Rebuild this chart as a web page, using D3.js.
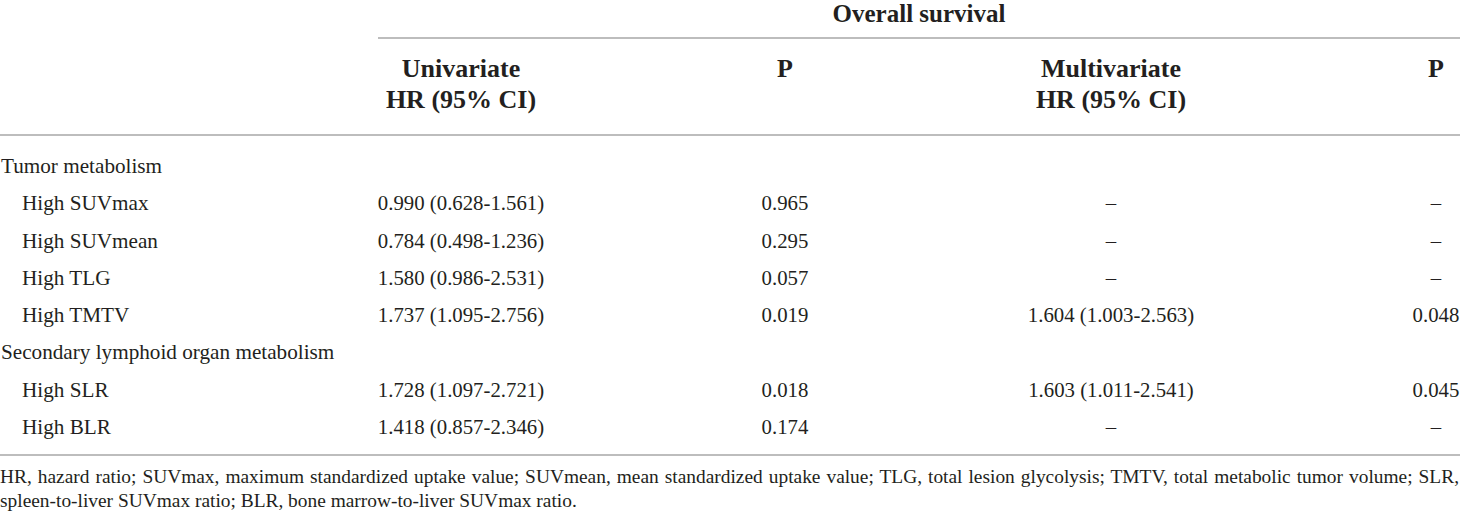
<!DOCTYPE html>
<html lang="en">
<head>
    <meta charset="UTF-8">
    <title>Overall survival - Cox regression table</title>
    <script src="https://d3js.org/d3.v7.min.js"></script>
    <style>
        body {
            margin: 0;
            background: #fff;
        }
        svg text {
            font-family: "Liberation Serif", "DejaVu Serif", serif;
            fill: #231f20;
        }
        .rule {
            stroke: #bdbdbd;
            stroke-width: 2;
        }
        .head {
            font-weight: bold;
        }
    </style>
</head>
<body>
    <svg id="table" width="1460" height="522"></svg>

    <script>
        // table contents
        const spanHeader = "Overall survival";
        const columnKeys = ["uni", "p1", "multi", "p2"];
        const columnHeaders = [["Univariate", "HR (95% CI)"], ["P"], ["Multivariate", "HR (95% CI)"], ["P"]];

        const groupNames = ["Tumor metabolism", "Secondary lymphoid organ metabolism"];
        const variables = ["High SUVmax", "High SUVmean", "High TLG", "High TMTV", "High SLR", "High BLR"];
        const variableGroup = [0, 0, 0, 0, 1, 1];

        const uniHR = ["0.990 (0.628-1.561)", "0.784 (0.498-1.236)", "1.580 (0.986-2.531)", "1.737 (1.095-2.756)", "1.728 (1.097-2.721)", "1.418 (0.857-2.346)"];
        const uniP = ["0.965", "0.295", "0.057", "0.019", "0.018", "0.174"];
        const multiHR = ["–", "–", "–", "1.604 (1.003-2.563)", "1.603 (1.011-2.541)", "–"];
        const multiP = ["–", "–", "–", "0.048", "0.045", "–"];

        const footnoteLines = [
            "HR, hazard ratio; SUVmax, maximum standardized uptake value; SUVmean, mean standardized uptake value; TLG, total lesion glycolysis; TMTV, total metabolic tumor volume; SLR,",
            "spleen-to-liver SUVmax ratio; BLR, bone marrow-to-liver SUVmax ratio."
        ];

        const svg = d3.select("#table");
        const width = +svg.attr("width");
        const headSize = 26;
        const labelSize = 21.2;
        const cellSize = 20.8;
        const noteSize = 19.4;

        // build the body rows: group heading followed by its variables
        const rows = [];
        groupNames.forEach((g, gi) => {
            rows.push({ key: "g" + gi, label: g, group: true });
            variables.forEach((v, i) => {
                if (variableGroup[i] === gi) {
                    rows.push({ key: "v" + i, label: v, group: false,
                        cells: [uniHR[i], uniP[i], multiHR[i], multiP[i]] });
                }
            });
        });

        const y = d3.scalePoint()
            .domain(rows.map(d => d.key))
            .range([173, 434]);

        const x = d3.scaleOrdinal()
            .domain(columnKeys)
            .range([461, 785, 1111, 1436]);

        // rules
        svg.append("line").attr("class", "rule")
            .attr("x1", 378).attr("x2", width).attr("y1", 38).attr("y2", 38);
        svg.append("line").attr("class", "rule")
            .attr("x1", 0).attr("x2", width).attr("y1", 135).attr("y2", 135);
        svg.append("line").attr("class", "rule")
            .attr("x1", 0).attr("x2", width).attr("y1", 455).attr("y2", 455);

        // spanning header
        svg.append("text")
            .attr("class", "head")
            .attr("x", 919)
            .attr("y", 22)
            .attr("text-anchor", "middle")
            .style("font-size", (headSize - 1) + "px")
            .text(spanHeader);

        // column headers
        const heads = svg.selectAll("text.colhead")
            .data(columnKeys)
            .join("text")
            .attr("class", "colhead head")
            .attr("text-anchor", "middle")
            .style("font-size", headSize + "px")
            .attr("x", d => x(d))
            .attr("y", 77);

        heads.selectAll("tspan")
            .data((d, i) => columnHeaders[i].map(t => ({ t, col: d })))
            .join("tspan")
            .attr("x", d => x(d.col))
            .attr("dy", (d, i) => i === 0 ? 0 : 31)
            .text(d => d.t);

        // row labels
        svg.selectAll("text.rowlabel")
            .data(rows)
            .join("text")
            .attr("class", "rowlabel")
            .style("font-size", labelSize + "px")
            .attr("x", d => d.group ? 1 : 22)
            .attr("y", d => y(d.key))
            .text(d => d.label);

        // cells
        const bodyRows = rows.filter(d => !d.group);
        svg.selectAll("g.row")
            .data(bodyRows)
            .join("g")
            .attr("class", "row")
            .selectAll("text")
            .data(d => d.cells.map((c, i) => ({ c, col: columnKeys[i], key: d.key })))
            .join("text")
            .attr("text-anchor", "middle")
            .style("font-size", cellSize + "px")
            .attr("x", d => x(d.col))
            .attr("y", d => y(d.key))
            .text(d => d.c);

        // footnote, first line justified to full width
        const notes = svg.selectAll("text.note")
            .data(footnoteLines)
            .join("text")
            .attr("class", "note")
            .style("font-size", noteSize + "px")
            .attr("x", 0)
            .attr("y", (d, i) => 483 + i * 24)
            .text(d => d);

        notes.filter((d, i) => i === 0).each(function (d) {
            const w = this.getComputedTextLength();
            const gaps = d.split(" ").length - 1;
            d3.select(this).style("word-spacing", ((width - 1 - w) / gaps) + "px");
        });
    </script>
</body>
</html>
